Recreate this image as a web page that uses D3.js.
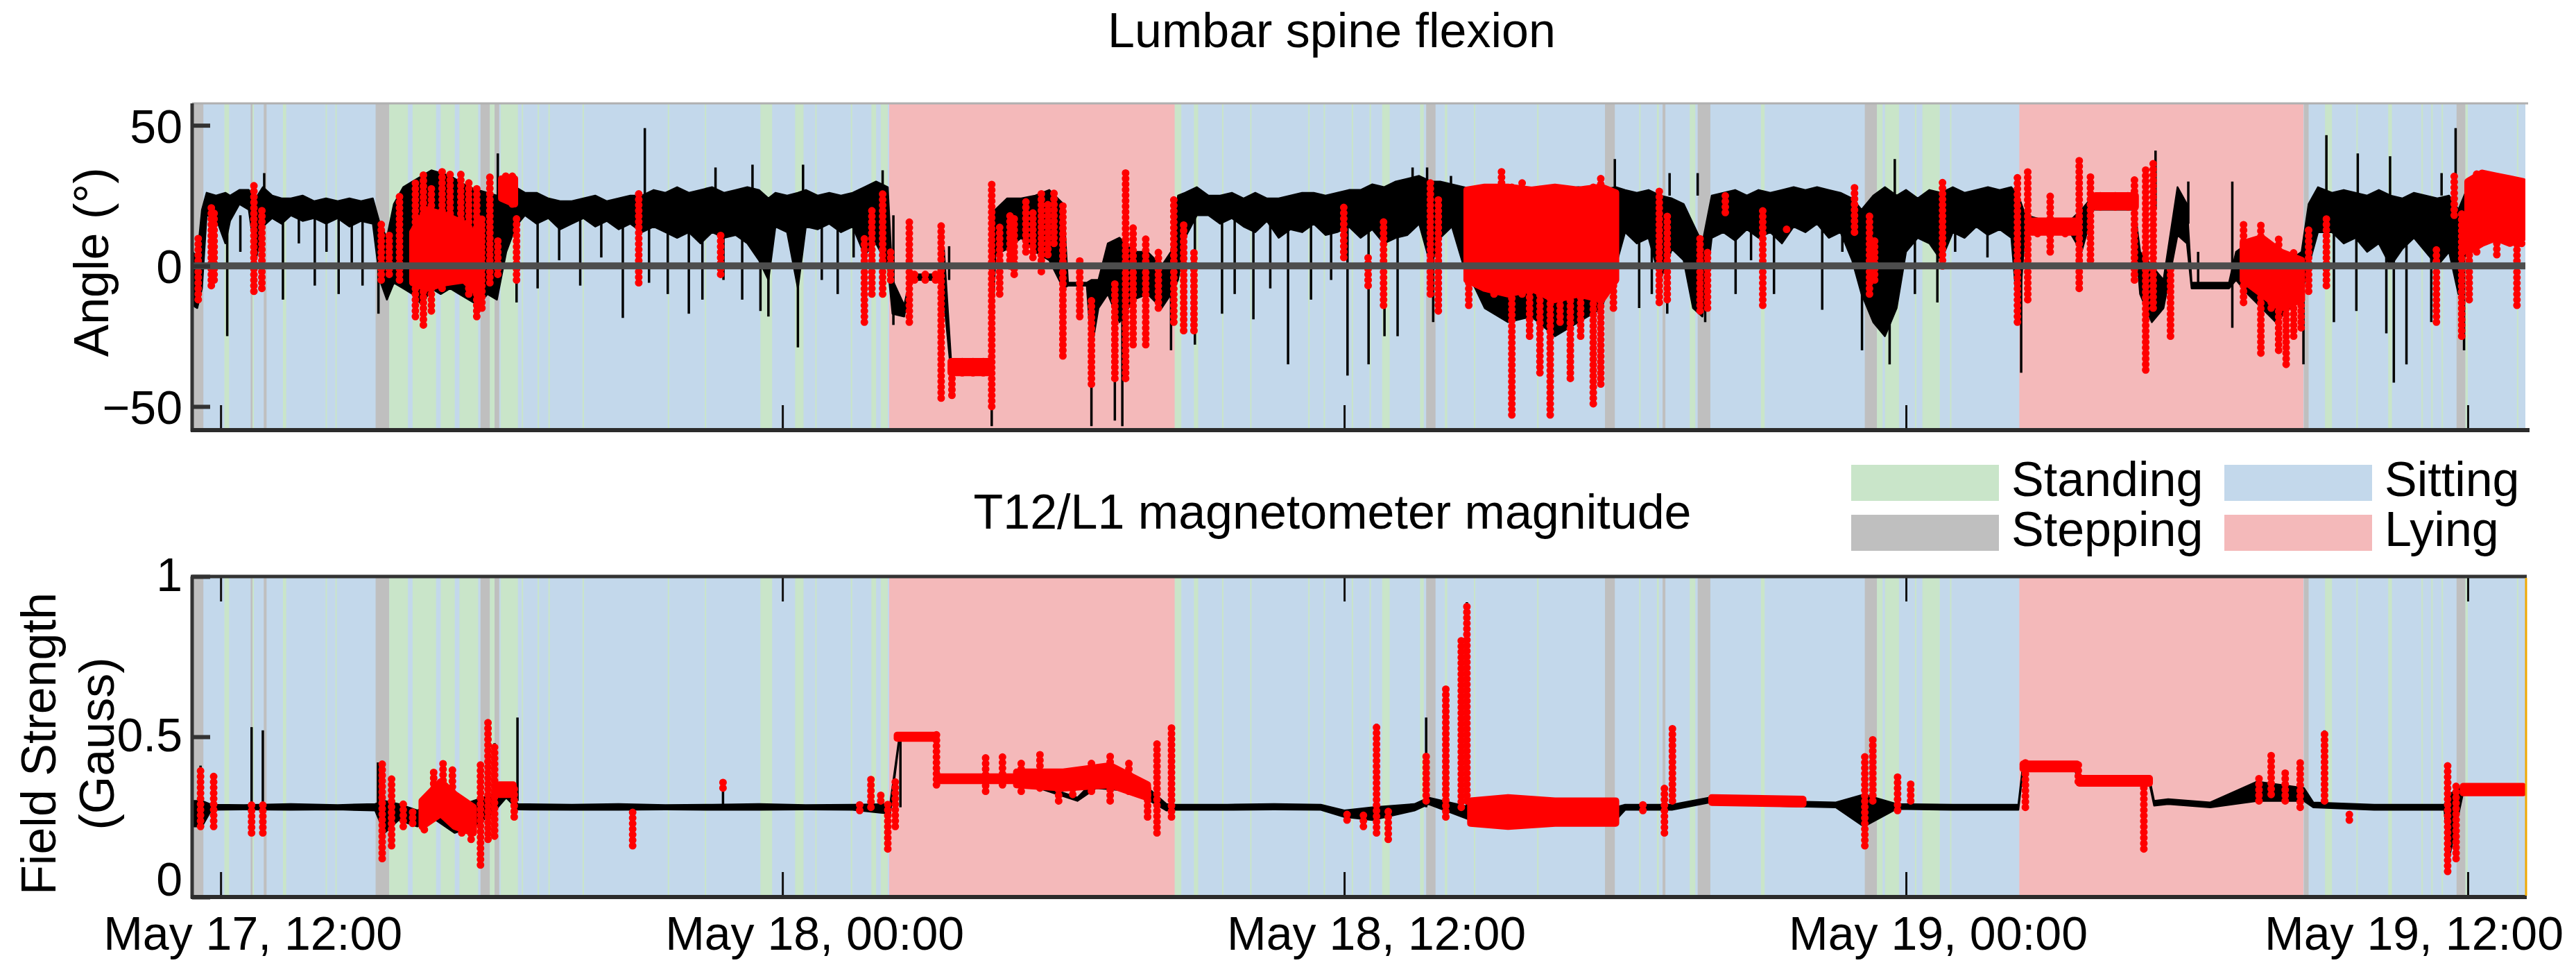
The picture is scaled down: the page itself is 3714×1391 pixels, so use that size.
<!DOCTYPE html>
<html>
<head>
<meta charset="utf-8">
<script src="https://cdn.jsdelivr.net/npm/d3@7"></script>
<style>
  body { margin: 0; background: #fff; }
  text { font-family: "Liberation Sans", Arial, sans-serif; fill: #000; }
</style>
</head>
<body>
<svg id="chart" width="3714" height="1391"></svg>
<script>
// time is in hours since May 17, 00:00
const tickHours = [12, 24, 36, 48, 60];
const angleTicks = [-50, 0, 50];
const magTicks = [0, 0.5, 1];
const stateNames = ["Standing", "Sitting", "Stepping", "Lying"];
const stateColors = ["#c9e5c9", "#c3d8eb", "#bfbfbf", "#f4b9ba"];

// activity periods: [start, end, state]
const bands = [
  [11.39, 61.23, "Sitting"],
  [11.39, 11.63, "Stepping"], [12.08, 12.18, "Standing"], [12.64, 12.70, "Stepping"],
  [12.92, 12.98, "Stepping"], [13.33, 13.40, "Standing"], [14.45, 14.48, "Standing"],
  [15.31, 15.60, "Stepping"], [15.60, 16.00, "Standing"], [16.10, 16.60, "Standing"],
  [16.70, 17.00, "Standing"], [17.10, 17.50, "Standing"], [17.55, 17.75, "Stepping"],
  [17.75, 17.85, "Standing"], [17.85, 17.95, "Stepping"], [17.98, 18.35, "Standing"],
  [19.00, 19.03, "Standing"], [23.53, 23.78, "Standing"], [24.27, 24.45, "Standing"],
  [25.90, 26.00, "Standing"], [26.10, 26.25, "Standing"],
  [26.28, 32.38, "Lying"],
  [32.38, 32.52, "Standing"], [32.79, 32.88, "Standing"], [36.81, 36.97, "Standing"],
  [37.62, 37.70, "Standing"], [37.75, 37.95, "Stepping"], [38.15, 38.20, "Standing"],
  [41.57, 41.78, "Stepping"], [42.68, 42.72, "Standing"], [42.80, 42.86, "Stepping"],
  [43.38, 43.50, "Standing"], [43.55, 43.82, "Stepping"], [44.90, 44.98, "Standing"],
  [47.12, 47.38, "Stepping"], [47.38, 47.50, "Standing"], [47.55, 47.85, "Standing"],
  [48.35, 48.72, "Standing"],
  [50.42, 56.49, "Lying"],
  [56.50, 56.60, "Stepping"], [56.95, 57.10, "Standing"], [58.30, 58.38, "Standing"],
  [59.76, 59.95, "Stepping"], [59.95, 60.00, "Standing"],
  // brief standing moments inside sitting bouts
  [12.68, 12.71, "Standing"], [14.24, 14.27, "Standing"], [18.43, 18.46, "Standing"],
  [18.77, 18.80, "Standing"], [19.73, 19.76, "Standing"], [21.55, 21.58, "Standing"],
  [22.34, 22.37, "Standing"], [24.70, 24.73, "Standing"], [25.46, 25.49, "Standing"],
  [33.39, 33.42, "Standing"], [33.99, 34.02, "Standing"], [35.23, 35.26, "Standing"],
  [35.56, 35.59, "Standing"], [36.16, 36.19, "Standing"], [36.54, 36.57, "Standing"],
  [38.77, 38.80, "Standing"], [40.12, 40.15, "Standing"], [42.30, 42.33, "Standing"],
  [48.19, 48.22, "Standing"], [48.94, 48.97, "Standing"], [57.62, 57.65, "Standing"],
  [59.01, 59.04, "Standing"], [59.22, 59.25, "Standing"], [59.44, 59.47, "Standing"],
  [61.05, 61.08, "Standing"]
];

// lumbar flexion, dense trace body: [hour, low, high] in degrees
const angleCore = [
  [11.40, -14, 5], [11.50, -15, 3], [11.60, -8, 20], [11.70, 18, 26], [11.90, 17, 25],
  [12.10, 8, 26], [12.20, 16, 25], [12.40, 22, 27], [12.60, 20, 27], [12.75, 2, 24],
  [12.90, 14, 28], [13.10, 17, 25], [13.30, 15, 24], [13.50, 18, 24], [13.75, 16, 25],
  [14.00, 17, 23], [14.25, 15, 24], [14.50, 17, 23], [14.75, 14, 24], [15.00, 16, 23],
  [15.25, 15, 24], [15.40, -5, 15], [15.55, -12, 10], [15.70, -6, 22], [15.90, -8, 28],
  [16.10, -10, 30], [16.30, -14, 32], [16.50, -8, 34], [16.70, -10, 33], [16.90, -8, 32],
  [17.10, -10, 30], [17.30, -12, 28], [17.50, -14, 27], [17.70, -10, 26], [17.90, -12, 25],
  [18.10, 5, 28], [18.30, 14, 28], [18.50, 18, 26], [18.75, 15, 26], [19.00, 17, 24],
  [19.25, 13, 23], [19.50, 15, 23], [19.75, 17, 24], [20.00, 14, 25], [20.25, 16, 23],
  [20.50, 13, 24], [20.75, 15, 25], [21.00, 12, 25], [21.25, 14, 27], [21.50, 12, 26],
  [21.75, 10, 28], [22.00, 12, 26], [22.25, 8, 27], [22.50, 12, 28], [22.75, 10, 26],
  [23.00, 11, 27], [23.25, 8, 28], [23.50, 2, 27], [23.70, -5, 24], [23.85, 14, 26],
  [24.10, 12, 25], [24.33, -8, 26], [24.50, 14, 27], [24.75, 13, 25], [25.00, 15, 26],
  [25.25, 12, 25], [25.50, 14, 26], [25.75, 4, 28], [26.00, 8, 30], [26.25, 0, 28],
  [26.35, -17, -5], [26.60, -18, -14], [26.75, -5, -3], [27.00, -5, -3], [27.35, -5, -3],
  [27.45, -12, 6], [27.60, -38, -33], [28.00, -38, -34], [28.45, -38, -34], [28.55, 4, 20],
  [28.80, 6, 24], [29.10, 10, 24], [29.40, 5, 25], [29.70, 2, 27], [30.00, -8, 22],
  [30.10, -7, -6], [30.50, -7, -6], [30.60, -30, -5], [30.75, -15, -5], [30.95, -10, 8],
  [31.20, -20, 10], [31.50, -12, 5], [31.80, -10, 5], [32.10, -15, 0], [32.30, -10, 5],
  [32.45, -5, 25], [32.60, 10, 26], [32.85, 18, 28], [33.10, 18, 25], [33.35, 15, 25],
  [33.60, 17, 26], [33.85, 14, 24], [34.10, 12, 26], [34.35, 16, 24], [34.60, 10, 24],
  [34.85, 13, 25], [35.10, 12, 26], [35.35, 15, 26], [35.60, 11, 25], [35.85, 12, 26],
  [36.10, 14, 27], [36.35, 10, 27], [36.60, 13, 29], [36.85, 8, 28], [37.10, 10, 30],
  [37.35, 11, 31], [37.60, 15, 32], [37.85, 0, 30], [38.05, 10, 30], [38.30, 14, 29],
  [38.55, 0, 28], [38.80, -8, 27], [39.00, -15, 27], [39.50, -20, 28], [40.00, -18, 26],
  [40.50, -25, 27], [41.00, -20, 28], [41.50, -15, 27], [41.80, 0, 28], [42.00, 12, 27],
  [42.25, 8, 26], [42.50, 10, 27], [42.75, -5, 25], [43.00, 6, 24], [43.25, 2, 22],
  [43.45, -15, 15], [43.65, -18, 8], [43.85, 10, 25], [44.10, 12, 26], [44.35, 9, 27],
  [44.60, 13, 25], [44.85, 10, 27], [45.10, 12, 26], [45.35, 8, 27], [45.60, 14, 28],
  [45.85, 12, 27], [46.10, 15, 28], [46.35, 10, 27], [46.60, 12, 26], [46.85, 2, 24],
  [47.05, -10, 20], [47.30, -20, 25], [47.55, -25, 28], [47.80, -15, 25], [48.00, 5, 27],
  [48.25, 10, 24], [48.50, 8, 27], [48.75, 2, 26], [49.00, 12, 28], [49.25, 10, 26],
  [49.50, 14, 27], [49.75, 11, 28], [50.00, 13, 27], [50.25, 10, 28], [50.40, -20, 25],
  [50.55, 14, 18], [51.00, 12, 16], [51.50, 12, 16], [51.75, 5, 20], [52.00, 20, 25],
  [52.50, 20, 25], [52.85, 20, 25], [53.00, -10, 5], [53.25, -20, 0], [53.50, -15, -5],
  [53.80, 11, 28], [54.00, 8, 22], [54.10, -8, -6], [54.50, -8, -6], [54.90, -8, -6],
  [55.05, -5, 5], [55.30, -10, 8], [55.60, -15, 5], [55.90, -20, 0], [56.20, -15, 2],
  [56.45, -10, 5], [56.60, 0, 22], [56.80, 12, 28], [57.10, 12, 26], [57.35, 8, 27],
  [57.60, 10, 26], [57.85, 5, 25], [58.10, 8, 27], [58.35, 0, 25], [58.60, 6, 24],
  [58.85, 10, 26], [59.10, 5, 25], [59.35, 0, 24], [59.60, 5, 25], [59.80, -10, 20],
  [60.00, 10, 28], [60.30, 12, 30], [60.60, 10, 30], [60.90, 12, 28], [61.18, 10, 27]
];

// single excursions of the trace: [hour, from, to]
const angleSpikes = [
  [12.14, 18, -25], [12.42, 18, 5], [12.93, 25, 33], [13.33, 18, -12], [13.67, 18, 8],
  [14.01, 18, -7], [14.26, 18, 5], [14.52, 18, -10], [14.80, 18, 0], [15.03, 18, -7],
  [15.37, 10, -17], [17.92, 25, 40], [18.32, 18, -13], [18.77, 18, -8], [19.23, 18, 2],
  [19.68, 18, -7], [20.13, 18, 3], [20.59, 18, -18.5], [21.06, 25, 49], [21.15, 18, -6],
  [21.55, 18, -10], [22.00, 18, -17], [22.29, 18, -12], [22.57, 25, 35], [22.74, 18, -5],
  [23.14, 18, -12], [23.36, 25, 36], [23.53, 18, -16], [23.70, 18, -18], [24.33, 18, -29],
  [24.44, 25, 36], [24.84, 18, -5], [25.18, 18, -10], [25.52, 18, 3], [25.91, 18, -5],
  [26.14, 25, 34], [26.37, 18, -21], [27.56, -5, 7], [28.47, 29, -57], [30.60, -5, -57],
  [31.10, -5, -55], [31.26, -5, -57], [32.30, 0, -30], [32.81, 18, -28], [33.39, 18, -17],
  [33.66, 18, -10], [34.06, 18, -19], [34.42, 18, -8], [34.80, 18, -35], [35.29, 18, -12],
  [35.72, 18, -5], [36.07, 18, -39], [36.52, 18, -35], [36.86, 18, -25], [37.14, 18, -25],
  [37.46, 25, 35], [37.77, 25, 35], [37.90, 18, -20], [38.28, 25, 32], [41.78, 25, 38],
  [42.30, 18, -15], [42.57, 18, -10], [42.90, 18, -17], [42.95, 25, 33], [43.55, 25, 33],
  [43.71, 10, -20], [44.36, 18, -10], [44.69, 18, 2], [45.18, 18, -10], [46.21, 18, -15.6],
  [46.64, 18, 5], [47.06, 10, -30], [47.65, 10, -35], [47.76, 25, 38], [48.19, 18, -10],
  [48.67, 18, -13], [49.05, 18, 5], [49.74, 18, 3], [50.46, 10, -38], [53.33, 20, 41],
  [54.03, 15, 30], [54.24, -7, 5], [54.97, 30, -22], [56.49, 0, -35], [56.98, 25, 46.5],
  [57.14, 18, -20], [57.62, 18, -16], [57.65, 25, 40], [58.26, 18, -24], [58.34, 25, 39],
  [58.42, 18, -41.5], [58.69, 18, -35], [59.22, 18, -20], [59.44, 25, 33], [59.74, 25, 49],
  [59.92, 10, -30]
];

// red flagged samples, as columns of dots: [hour, low, high]
const angleRed = [
  [11.52, -12, 10], [11.80, -7, 22], [11.86, -5, 20], [12.71, -9, 29], [12.88, -8, 20],
  [15.43, -5, 15], [15.60, -3, 12], [15.82, -5, 26], [16.16, -18, 30], [16.33, -21, 33],
  [16.50, -16, 28], [16.73, -8, 35], [16.90, -5, 33], [17.13, -5, 33], [17.30, -10, 30],
  [17.47, -18, 28], [17.58, -15, 18], [17.75, -6, 33], [17.92, -3, 10], [18.09, 24, 32],
  [18.23, 22, 32], [18.32, -5, 17], [20.93, -6, 26], [22.68, -3, 11.5], [25.75, -20, 10],
  [25.91, -10, 20], [26.14, -10, 26], [26.31, -5, 5], [26.71, -20, 17], [26.82, -5, -3],
  [27.05, -5, -3], [27.27, -5, -3], [27.39, -47, 15], [27.62, -46, -33], [27.84, -38, -33],
  [28.07, -38, -33], [28.29, -38, -33], [28.47, -50, 29], [28.64, -10, 15], [28.86, 0, 18],
  [28.95, -3, 18], [29.20, 5, 24], [29.35, 3, 20], [29.53, -2, 27], [29.67, 4, 22],
  [29.80, 8, 26], [29.99, -32, 22],
  [30.35, -18, 2], [30.60, -42, -12], [31.10, -40, -5], [31.33, -40, 34], [31.49, -28, 14],
  [31.76, -28, 10], [32.03, -15, 5], [32.36, -20, 25], [32.57, -23, 16], [32.79, -23, 6],
  [35.99, 3, 22], [36.51, -7, 3], [36.84, -14, 16], [37.84, -10, 30], [38.01, -16, 25],
  [38.66, -14, 27], [38.98, -5, 28], [39.20, -10, 28], [39.36, -8, 34], [39.58, -53, 28],
  [39.80, -10, 30], [39.96, -25, 28], [40.18, -38, 28], [40.40, -53, 27], [40.61, -20, 28],
  [40.83, -40, 28], [41.05, -25, 27], [41.32, -49, 28], [41.48, -42, 32], [41.75, -15, 23],
  [42.73, -13, 27], [42.90, -12, 18], [43.60, -16, 10], [43.76, -15, 5], [44.14, 19, 25],
  [44.94, -14, 20], [45.45, 13, 14], [46.90, 12, 28], [47.22, -10, 18], [47.33, -5, 10],
  [48.78, 0, 30], [50.38, -20, 33], [50.60, -12, 35], [50.81, 11.5, 16], [51.08, 5, 25],
  [51.40, 11.5, 16], [51.70, -8, 39], [51.94, 2, 33], [52.15, 21, 25], [52.47, 21, 25],
  [52.74, 21, 25], [52.88, -5, 32], [53.12, -37, 35], [53.28, -15, 38], [53.65, -25, 0],
  [55.21, -13, 15], [55.37, -5, 8], [55.58, -31, 15], [55.80, -15, 8], [55.96, -30, 10],
  [56.12, -35, 3], [56.28, -25, 5], [56.44, -22, 0], [56.60, -9, 14], [56.98, -7, 17],
  [59.33, -20, 7], [59.71, 18, 32], [59.87, -25, 20], [60.03, -12, 30], [60.19, 5, 33],
  [60.40, 10, 32], [60.62, 4, 33], [60.83, 10, 31], [61.05, -14, 30], [61.15, 8, 30]
];

// runs where red samples are packed solid: each run is [hour, low, high] rows
const angleRedDense = [
  [[16.10, -6, 12], [16.40, -8, 20], [16.80, -6, 18], [17.20, -5, 15], [17.50, -10, 10]],
  [[18.00, 24, 31], [18.28, 22, 31]],
  [[27.60, -38, -34], [28.45, -38, -34]],
  [[38.62, -5, 27], [39.00, -8, 28], [39.50, -10, 28], [40.00, -8, 27], [40.50, -12, 28],
   [41.00, -10, 27], [41.50, -12, 28], [41.80, -5, 26]],
  [[50.65, 12, 16], [51.65, 12, 16]],
  [[52.05, 21, 25], [52.90, 21, 25]],
  [[55.20, -5, 8], [55.60, -10, 10], [56.00, -15, 5], [56.45, -12, 2]],
  [[60.00, 5, 30], [60.30, 8, 33], [60.60, 10, 32], [60.90, 8, 31], [61.18, 10, 30]]
];

// T12/L1 magnetometer magnitude, trace body: [hour, low, high] in gauss
const magCore = [
  [11.40, 0.22, 0.30], [11.60, 0.22, 0.30], [11.80, 0.272, 0.288], [12.50, 0.273, 0.287],
  [13.50, 0.272, 0.29], [14.50, 0.273, 0.287], [15.30, 0.27, 0.29], [15.50, 0.20, 0.30],
  [15.80, 0.24, 0.29], [16.20, 0.22, 0.27], [16.60, 0.24, 0.30], [17.00, 0.20, 0.28],
  [17.40, 0.22, 0.30], [17.80, 0.26, 0.32], [18.10, 0.31, 0.33], [18.35, 0.273, 0.29],
  [19.50, 0.272, 0.288], [20.50, 0.272, 0.29], [21.50, 0.273, 0.287], [22.50, 0.272, 0.288],
  [23.50, 0.272, 0.29], [24.50, 0.273, 0.287], [25.50, 0.272, 0.288], [26.30, 0.26, 0.29],
  [26.50, 0.495, 0.505], [27.25, 0.495, 0.505], [27.35, 0.36, 0.375], [28.00, 0.363, 0.375],
  [29.00, 0.363, 0.375], [30.30, 0.30, 0.31], [30.70, 0.34, 0.37], [31.50, 0.33, 0.38],
  [32.20, 0.27, 0.29], [32.40, 0.272, 0.288], [33.50, 0.272, 0.288], [34.50, 0.273, 0.29],
  [35.50, 0.272, 0.288], [36.00, 0.25, 0.27], [36.60, 0.24, 0.28], [37.50, 0.27, 0.29],
  [37.80, 0.29, 0.31], [38.70, 0.24, 0.28], [41.80, 0.24, 0.28], [42.00, 0.272, 0.288],
  [43.00, 0.272, 0.288], [43.80, 0.295, 0.31], [45.00, 0.285, 0.30], [46.50, 0.28, 0.295],
  [47.10, 0.22, 0.32], [47.80, 0.275, 0.29], [49.00, 0.272, 0.288], [50.40, 0.272, 0.288],
  [50.50, 0.40, 0.415], [51.60, 0.40, 0.415], [51.70, 0.355, 0.37], [53.20, 0.355, 0.37],
  [53.30, 0.285, 0.30], [53.60, 0.29, 0.305], [54.50, 0.28, 0.295], [55.50, 0.30, 0.36],
  [56.50, 0.30, 0.34], [56.70, 0.28, 0.295], [58.00, 0.272, 0.288], [59.50, 0.272, 0.288],
  [59.60, 0.12, 0.32], [59.90, 0.325, 0.345], [61.18, 0.325, 0.345]
];

const magSpikes = [
  [11.57, 0.28, 0.41], [12.66, 0.28, 0.53], [12.90, 0.28, 0.52], [15.36, 0.28, 0.42],
  [17.71, 0.30, 0.55], [17.85, 0.30, 0.48], [18.34, 0.30, 0.56], [22.73, 0.28, 0.36],
  [26.52, 0.28, 0.50], [32.31, 0.28, 0.53], [36.69, 0.28, 0.54], [37.75, 0.28, 0.56],
  [38.17, 0.28, 0.65], [38.62, 0.28, 0.92], [43.01, 0.28, 0.53], [47.29, 0.28, 0.50],
  [56.94, 0.28, 0.52], [59.60, 0.30, 0.08]
];

const magRed = [
  [11.57, 0.22, 0.41], [11.85, 0.22, 0.38], [12.66, 0.20, 0.30], [12.90, 0.20, 0.30],
  [15.45, 0.12, 0.42], [15.65, 0.16, 0.38], [15.90, 0.22, 0.30], [16.10, 0.23, 0.28],
  [16.35, 0.21, 0.29], [16.55, 0.25, 0.40], [16.75, 0.26, 0.42], [16.95, 0.24, 0.40],
  [17.15, 0.20, 0.27], [17.35, 0.18, 0.25], [17.55, 0.10, 0.42], [17.71, 0.18, 0.55],
  [17.85, 0.19, 0.48], [18.27, 0.25, 0.35], [20.80, 0.16, 0.28], [22.73, 0.34, 0.36],
  [25.65, 0.27, 0.29], [25.89, 0.28, 0.38], [26.10, 0.30, 0.33], [26.25, 0.15, 0.30],
  [26.41, 0.22, 0.36], [27.29, 0.35, 0.51], [28.34, 0.33, 0.45], [28.70, 0.35, 0.44],
  [29.10, 0.33, 0.42], [29.50, 0.34, 0.45], [29.90, 0.30, 0.40], [30.20, 0.32, 0.38],
  [30.60, 0.33, 0.42], [31.00, 0.30, 0.45], [31.40, 0.33, 0.42], [31.80, 0.25, 0.35],
  [32.00, 0.20, 0.48], [32.31, 0.25, 0.53], [36.06, 0.24, 0.26], [36.41, 0.22, 0.27],
  [36.69, 0.20, 0.54], [36.94, 0.18, 0.28], [37.75, 0.30, 0.45], [38.17, 0.25, 0.65],
  [38.50, 0.28, 0.80], [38.62, 0.30, 0.92], [42.38, 0.27, 0.30], [42.84, 0.20, 0.35],
  [43.01, 0.30, 0.53], [47.12, 0.16, 0.45], [47.29, 0.30, 0.50], [47.82, 0.27, 0.38],
  [48.10, 0.30, 0.36], [50.55, 0.28, 0.42], [51.68, 0.36, 0.42], [53.08, 0.15, 0.37],
  [55.54, 0.30, 0.38], [55.80, 0.32, 0.45], [56.10, 0.30, 0.40], [56.42, 0.28, 0.42],
  [56.94, 0.30, 0.52], [57.47, 0.24, 0.27], [59.57, 0.08, 0.42], [59.75, 0.12, 0.36]
];

const magRedDense = [
  [[16.30, 0.22, 0.30], [16.70, 0.26, 0.36], [17.00, 0.22, 0.32], [17.40, 0.20, 0.28]],
  [[17.95, 0.32, 0.35], [18.25, 0.32, 0.35]],
  [[26.45, 0.495, 0.505], [27.28, 0.495, 0.505]],
  [[27.30, 0.363, 0.375], [29.00, 0.363, 0.375]],
  [[29.00, 0.35, 0.39], [30.00, 0.34, 0.39], [31.00, 0.35, 0.41], [31.80, 0.31, 0.35]],
  [[38.70, 0.23, 0.30], [39.50, 0.22, 0.31], [40.50, 0.23, 0.30], [41.80, 0.23, 0.30]],
  [[43.85, 0.295, 0.31], [45.80, 0.29, 0.305]],
  [[50.50, 0.40, 0.415], [51.65, 0.40, 0.415]],
  [[51.70, 0.355, 0.37], [53.20, 0.355, 0.37]],
  [[59.90, 0.325, 0.345], [61.18, 0.325, 0.345]]
];

const svg = d3.select("#chart");
const t0 = new Date(2016, 4, 17, 0, 0);
const toDate = h => new Date(t0.getTime() + h * 3600e3);
const left = 277, right = 3641;

const x = d3.scaleTime().domain([toDate(11.39), toDate(61.23)]).range([left, right]);
const color = d3.scaleOrdinal().domain(stateNames).range(stateColors);
const fmt = d3.timeFormat("%b %-d, %H:%M");

function drawPanel(id, y, core, spikes, red, redDense) {
  const [bottom, top] = y.range();
  const g = svg.append("g");
  svg.append("clipPath").attr("id", id)
    .append("rect").attr("x", left).attr("y", top).attr("width", right - left).attr("height", bottom - top);
  const inner = g.append("g").attr("clip-path", `url(#${id})`);

  inner.selectAll("rect.band").data(bands).join("rect")
    .attr("class", "band")
    .attr("x", d => x(toDate(d[0])))
    .attr("width", d => x(toDate(d[1])) - x(toDate(d[0])))
    .attr("y", top).attr("height", bottom - top)
    .attr("fill", d => color(d[2]));

  const px = d => x(toDate(d[0]));
  inner.append("path").datum(core)
    .attr("d", d3.area().x(px).y0(d => y(d[1])).y1(d => y(d[2])))
    .attr("fill", "#000").attr("stroke", "#000").attr("stroke-width", 2.5)
    .attr("stroke-linejoin", "round");

  inner.selectAll("line.spike").data(spikes).join("line")
    .attr("x1", px).attr("x2", px)
    .attr("y1", d => y(d[1])).attr("y2", d => y(d[2]))
    .attr("stroke", "#000").attr("stroke-width", 3.5);

  inner.selectAll("path.dense").data(redDense).join("path")
    .attr("d", d3.area().x(px).y0(d => y(d[1])).y1(d => y(d[2])))
    .attr("fill", "#ff0000").attr("stroke", "#ff0000").attr("stroke-width", 10)
    .attr("stroke-linejoin", "round");

  inner.selectAll("line.red").data(red).join("line")
    .attr("x1", px).attr("x2", px)
    .attr("y1", d => y(d[1])).attr("y2", d => y(d[2]))
    .attr("stroke", "#ff0000").attr("stroke-width", 11).attr("stroke-linecap", "round")
    .attr("stroke-dasharray", "0 8");
  return { g, inner, top, bottom };
}

// ---- top panel: lumbar spine flexion ----
const yA = d3.scaleLinear().domain([-58.4, 57.8]).range([620, 149]);
const pA = drawPanel("clipA", yA, angleCore, angleSpikes, angleRed, angleRedDense);

pA.inner.append("line")
  .attr("x1", left).attr("x2", right).attr("y1", yA(0)).attr("y2", yA(0))
  .attr("stroke", "#4d4d4d").attr("stroke-width", 10);

const axA = svg.append("g").attr("transform", `translate(${left},0)`)
  .call(d3.axisLeft(yA).tickValues(angleTicks).tickSize(-26).tickPadding(14)
    .tickFormat(d => d < 0 ? "\u2212" + Math.abs(d) : d));
axA.select(".domain").remove();
axA.selectAll(".tick line").attr("stroke", "#333").attr("stroke-width", 6);
axA.selectAll(".tick text").attr("font-size", 68).attr("dy", "0.36em")
  .attr("font-family", "Liberation Sans, Arial, sans-serif");

const xA = svg.append("g").attr("transform", `translate(0,${pA.bottom})`)
  .call(d3.axisBottom(x).tickValues(tickHours.map(toDate)).tickSize(-36).tickFormat(""));
xA.select(".domain").remove();
xA.selectAll(".tick line").attr("stroke", "#111").attr("stroke-width", 3);

// borders
svg.append("line").attr("x1", left).attr("x2", right + 4).attr("y1", 149).attr("y2", 149)
  .attr("stroke", "#b0b0b0").attr("stroke-width", 3);
svg.append("line").attr("x1", left).attr("x2", left).attr("y1", 149).attr("y2", 622)
  .attr("stroke", "#333").attr("stroke-width", 5);
svg.append("line").attr("x1", left - 2).attr("x2", right + 6).attr("y1", 620).attr("y2", 620)
  .attr("stroke", "#2b2b2b").attr("stroke-width", 6);

svg.append("text").attr("x", 1920).attr("y", 68).attr("text-anchor", "middle")
  .attr("font-size", 70).text("Lumbar spine flexion");
svg.append("text").attr("transform", "translate(156,378) rotate(-90)")
  .attr("text-anchor", "middle").attr("font-size", 70).text("Angle (\u00b0)");

// ---- bottom panel: magnetometer ----
const yM = d3.scaleLinear().domain([0, 1]).range([1293, 831]);
const pM = drawPanel("clipM", yM, magCore, magSpikes, magRed, magRedDense);

const axM = svg.append("g").attr("transform", `translate(${left},0)`)
  .call(d3.axisLeft(yM).tickValues(magTicks).tickSize(-26).tickPadding(14)
    .tickFormat(d => d === 0.5 ? "0.5" : d3.format("d")(d)));
axM.select(".domain").remove();
axM.selectAll(".tick line").attr("stroke", "#333").attr("stroke-width", 6);
axM.selectAll(".tick text").attr("font-size", 68).attr("dy", d => d === 0 ? "-0.04em" : "0.3em")
  .attr("font-family", "Liberation Sans, Arial, sans-serif");

const xMb = svg.append("g").attr("transform", `translate(0,${pM.bottom})`)
  .call(d3.axisBottom(x).tickValues(tickHours.map(toDate)).tickSize(-36).tickFormat(fmt).tickPadding(26));
xMb.select(".domain").remove();
xMb.selectAll(".tick line").attr("stroke", "#111").attr("stroke-width", 3);
xMb.selectAll(".tick text").attr("font-size", 68)
  .attr("font-family", "Liberation Sans, Arial, sans-serif")
  .attr("dy", "0.71em").attr("y", 28)
  .attr("x", function () {
    const w = this.getComputedTextLength();
    const cx = this.parentNode.transform.baseVal.consolidate().matrix.e;
    return Math.min(46, 3696 - w / 2 - cx);
  });

const xMt = svg.append("g").attr("transform", `translate(0,${pM.top})`)
  .call(d3.axisTop(x).tickValues(tickHours.map(toDate)).tickSize(-36).tickFormat(""));
xMt.select(".domain").remove();
xMt.selectAll(".tick line").attr("stroke", "#111").attr("stroke-width", 3);

svg.append("line").attr("x1", left - 2).attr("x2", right + 2).attr("y1", 831).attr("y2", 831)
  .attr("stroke", "#333").attr("stroke-width", 5);
svg.append("line").attr("x1", left).attr("x2", left).attr("y1", 831).attr("y2", 1295)
  .attr("stroke", "#333").attr("stroke-width", 5);
svg.append("line").attr("x1", left - 2).attr("x2", right + 2).attr("y1", 1293).attr("y2", 1293)
  .attr("stroke", "#2b2b2b").attr("stroke-width", 6);
svg.append("line").attr("x1", right + 1).attr("x2", right + 1).attr("y1", 833).attr("y2", 1291)
  .attr("stroke", "#f0a800").attr("stroke-width", 3);

svg.append("text").attr("x", 1921).attr("y", 762).attr("text-anchor", "middle")
  .attr("font-size", 70).text("T12/L1 magnetometer magnitude");
const fl = svg.append("text").attr("transform", "translate(80,1072) rotate(-90)")
  .attr("text-anchor", "middle").attr("font-size", 70);
fl.append("tspan").attr("x", 0).attr("y", 0).text("Field Strength");
fl.append("tspan").attr("x", 0).attr("y", 84).text("(Gauss)");

// ---- legend ----
const leg = svg.append("g").selectAll("g").data(stateNames).join("g")
  .attr("transform", (d, i) => `translate(${2669 + (i % 2) * 538},${670 + Math.floor(i / 2) * 72})`);
leg.append("rect").attr("width", 213).attr("height", 52).attr("fill", d => color(d));
leg.append("text").attr("x", 231).attr("y", 45).attr("font-size", 70).text(d => d);
</script>
</body>
</html>
